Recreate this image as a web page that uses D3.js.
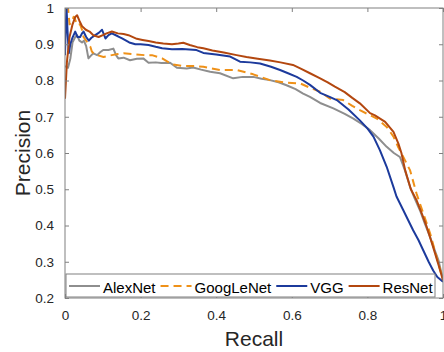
<!DOCTYPE html>
<html>
<head>
<meta charset="utf-8">
<script src="https://cdn.jsdelivr.net/npm/d3@7"></script>
<style>
  body { margin: 0; background: #fff; }
  svg { display: block; font-family: "Liberation Sans", Arial, sans-serif; }
</style>
</head>
<body>
<svg id="chart" width="444" height="352"></svg>
<script>
// ---------------- données (rappel, précision) ----------------
const seriesNames = ["AlexNet", "GoogLeNet", "VGG", "ResNet"];
const xTicks = [0, 0.2, 0.4, 0.6, 0.8, 1];
const yTicks = [0.2, 0.3, 0.4, 0.5, 0.6, 0.7, 0.8, 0.9, 1];

const alexnet = [[0,0.84],[0.008,0.835],[0.014,0.86],[0.02,0.905],[0.027,0.92],[0.032,0.925],[0.038,0.91],[0.045,0.905],[0.05,0.91],[0.056,0.895],[0.062,0.861],[0.068,0.868],[0.075,0.875],[0.085,0.87],[0.093,0.878],[0.101,0.884],[0.115,0.884],[0.128,0.888],[0.135,0.87],[0.141,0.861],[0.155,0.863],[0.172,0.856],[0.19,0.86],[0.207,0.861],[0.221,0.849],[0.24,0.85],[0.255,0.848],[0.278,0.849],[0.296,0.835],[0.322,0.833],[0.339,0.836],[0.36,0.83],[0.384,0.824],[0.41,0.82],[0.445,0.806],[0.47,0.81],[0.498,0.81],[0.52,0.805],[0.542,0.801],[0.565,0.795],[0.586,0.787],[0.61,0.776],[0.63,0.764],[0.648,0.755],[0.675,0.738],[0.71,0.723],[0.74,0.708],[0.763,0.695],[0.785,0.68],[0.807,0.663],[0.83,0.64],[0.851,0.617],[0.87,0.6],[0.886,0.589],[0.893,0.57],[0.9,0.55],[0.913,0.506],[0.925,0.475],[0.939,0.442],[0.952,0.405],[0.966,0.368],[0.977,0.335],[0.988,0.304],[1,0.25]];

const googlenet = [[0,1.0],[0.008,1.0],[0.012,0.955],[0.017,0.96],[0.023,0.976],[0.028,0.965],[0.032,0.953],[0.04,0.955],[0.045,0.94],[0.049,0.92],[0.058,0.907],[0.067,0.893],[0.071,0.88],[0.078,0.872],[0.085,0.87],[0.102,0.865],[0.124,0.87],[0.14,0.873],[0.155,0.875],[0.186,0.872],[0.21,0.87],[0.23,0.87],[0.257,0.861],[0.283,0.845],[0.31,0.84],[0.34,0.84],[0.366,0.838],[0.41,0.829],[0.454,0.829],[0.498,0.817],[0.542,0.801],[0.586,0.794],[0.622,0.792],[0.648,0.78],[0.675,0.769],[0.701,0.75],[0.736,0.746],[0.76,0.73],[0.78,0.718],[0.825,0.695],[0.851,0.672],[0.869,0.645],[0.882,0.615],[0.895,0.589],[0.913,0.552],[0.93,0.488],[0.948,0.433],[0.966,0.378],[0.983,0.313],[1,0.25]];

const vgg = [[0,0.87],[0.002,0.95],[0.004,1.0],[0.007,0.93],[0.01,0.875],[0.014,0.9],[0.019,0.916],[0.027,0.935],[0.033,0.92],[0.04,0.92],[0.045,0.93],[0.049,0.935],[0.056,0.92],[0.063,0.91],[0.07,0.918],[0.08,0.925],[0.09,0.932],[0.098,0.94],[0.107,0.916],[0.115,0.925],[0.124,0.93],[0.14,0.922],[0.151,0.916],[0.17,0.905],[0.186,0.9],[0.2,0.9],[0.221,0.898],[0.24,0.893],[0.257,0.889],[0.283,0.886],[0.31,0.887],[0.348,0.884],[0.366,0.876],[0.4,0.872],[0.437,0.866],[0.463,0.852],[0.49,0.85],[0.516,0.847],[0.545,0.838],[0.569,0.829],[0.59,0.82],[0.613,0.81],[0.63,0.8],[0.648,0.788],[0.675,0.766],[0.7,0.755],[0.719,0.746],[0.75,0.72],[0.78,0.69],[0.8,0.668],[0.816,0.645],[0.833,0.608],[0.851,0.562],[0.869,0.506],[0.877,0.48],[0.895,0.442],[0.921,0.387],[0.935,0.36],[0.948,0.331],[0.962,0.3],[0.974,0.276],[0.985,0.258],[1,0.245]];

const resnet = [[0,0.75],[0.005,0.85],[0.012,0.92],[0.02,0.955],[0.027,0.975],[0.032,0.98],[0.038,0.965],[0.045,0.95],[0.055,0.94],[0.065,0.935],[0.075,0.925],[0.089,0.92],[0.1,0.925],[0.11,0.93],[0.124,0.935],[0.14,0.93],[0.155,0.928],[0.168,0.925],[0.19,0.915],[0.205,0.912],[0.221,0.909],[0.24,0.905],[0.26,0.902],[0.283,0.9],[0.3,0.902],[0.313,0.904],[0.33,0.898],[0.35,0.892],[0.366,0.889],[0.39,0.883],[0.42,0.877],[0.454,0.87],[0.48,0.865],[0.51,0.86],[0.542,0.855],[0.57,0.85],[0.603,0.843],[0.625,0.832],[0.648,0.82],[0.675,0.806],[0.695,0.795],[0.714,0.783],[0.74,0.768],[0.76,0.752],[0.78,0.737],[0.807,0.71],[0.82,0.704],[0.847,0.686],[0.869,0.658],[0.882,0.626],[0.89,0.6],[0.9,0.552],[0.915,0.5],[0.93,0.47],[0.945,0.43],[0.957,0.396],[0.968,0.36],[0.979,0.323],[0.99,0.285],[1,0.249]];

const seriesData = [alexnet, googlenet, vgg, resnet];
const seriesColors = ["#8e8e8e", "#ef9118", "#1c3a9c", "#b3470f"];
const seriesDash = [null, "8,5", null, null];

// ---------------- mise en page ----------------
const gauche = 65, droite = 443, haut = 8, bas = 298;
const svg = d3.select("#chart");

const x = d3.scaleLinear().domain([0, 1]).range([gauche, droite]);
const y = d3.scaleLinear().domain([0.2, 1]).range([bas, haut]);

svg.append("defs").append("clipPath").attr("id", "zone")
    .append("rect")
    .attr("x", gauche).attr("y", haut)
    .attr("width", droite - gauche).attr("height", bas - haut);

// courbes
const ligne = d3.line().x(d => x(d[0])).y(d => y(d[1]));
const courbes = svg.append("g").attr("clip-path", "url(#zone)");
seriesData.forEach((serie, i) => {
    courbes.append("path")
        .attr("d", ligne(serie))
        .attr("fill", "none")
        .attr("stroke", seriesColors[i])
        .attr("stroke-width", 2)
        .attr("stroke-linejoin", "round")
        .attr("stroke-dasharray", seriesDash[i]);
});

// axes (graduations vers l'intérieur, sur les 4 côtés)
const couleurAxe = "#808080";
const couleurTexte = "#262626";

function styleAxe(g) {
    g.select(".domain").remove();
    g.selectAll(".tick line").attr("stroke", couleurAxe);
    g.selectAll(".tick text").attr("fill", couleurTexte)
        .style("font-size", "13.5px");
}

svg.append("g").attr("transform", `translate(0,${bas})`)
    .call(d3.axisBottom(x).tickValues(xTicks).tickFormat(d3.format("~g"))
        .tickSizeInner(-4).tickPadding(12))
    .call(styleAxe);
svg.append("g").attr("transform", `translate(0,${haut})`)
    .call(d3.axisTop(x).tickValues(xTicks).tickSizeInner(-4).tickFormat(""))
    .call(styleAxe);
svg.append("g").attr("transform", `translate(${gauche},0)`)
    .call(d3.axisLeft(y).tickValues(yTicks).tickFormat(d3.format("~g"))
        .tickSizeInner(-4).tickPadding(11))
    .call(styleAxe);
svg.append("g").attr("transform", `translate(${droite},0)`)
    .call(d3.axisRight(y).tickValues(yTicks).tickSizeInner(-4).tickFormat(""))
    .call(styleAxe);

// cadre
svg.append("rect")
    .attr("x", gauche).attr("y", haut)
    .attr("width", droite - gauche).attr("height", bas - haut)
    .attr("fill", "none").attr("stroke", couleurAxe).attr("stroke-width", 1);

// titres des axes
svg.append("text")
    .attr("x", (gauche + droite) / 2).attr("y", 346)
    .attr("text-anchor", "middle")
    .attr("fill", couleurTexte).style("font-size", "21px")
    .text("Recall");
svg.append("text")
    .attr("transform", `translate(30,${(haut + bas) / 2}) rotate(-90)`)
    .attr("text-anchor", "middle")
    .attr("fill", couleurTexte).style("font-size", "21px")
    .text("Precision");

// ---------------- légende ----------------
const legende = svg.append("g");
const cadreLegende = legende.append("rect")
    .attr("x", gauche + 1).attr("y", 274)
    .attr("width", 435 - gauche - 1).attr("height", 23)
    .attr("fill", "#fff").attr("stroke", couleurAxe).attr("stroke-width", 1);

let posX = 69;
seriesNames.forEach((nom, i) => {
    legende.append("line")
        .attr("x1", posX).attr("x2", posX + 31)
        .attr("y1", 286).attr("y2", 286)
        .attr("stroke", seriesColors[i])
        .attr("stroke-width", 2)
        .attr("stroke-dasharray", seriesDash[i]);
    const t = legende.append("text")
        .attr("x", posX + 34).attr("y", 292.5)
        .attr("fill", "#000").style("font-size", "15px")
        .text(nom);
    posX += 34 + t.node().getComputedTextLength() + 5;
});
</script>
</body>
</html>
